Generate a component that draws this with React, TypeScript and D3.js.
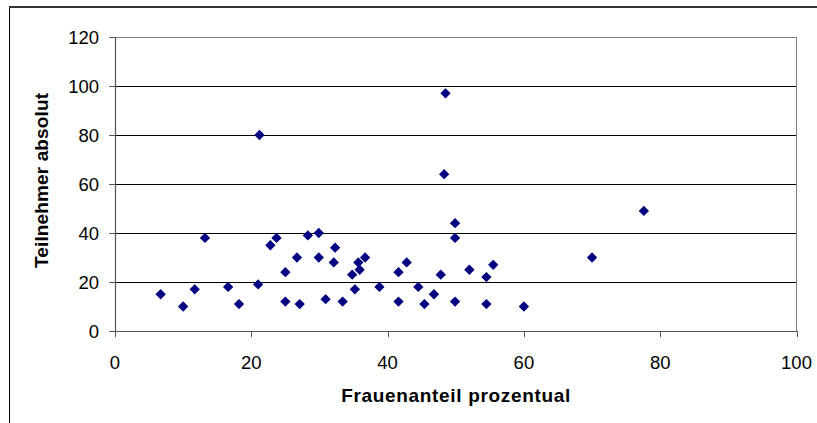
import React from "react";
import * as d3 from "d3";

const frauenanteil: number[] = [
  6.7, 10.0, 11.7, 13.2, 16.6, 18.2, 21.2, 21.0, 22.8, 23.7, 25.0, 25.0, 26.7, 27.1,
  28.3, 29.9, 29.9, 30.9, 32.3, 32.1, 33.4, 34.8, 35.2, 35.7, 35.9, 36.7, 38.8, 41.6,
  41.6, 42.8, 44.5, 45.4, 46.8, 47.8, 48.5, 48.3, 49.9, 49.9, 49.9, 52.0, 54.5, 55.5,
  54.5, 60.0, 70.0, 77.6,
];
const teilnehmer: number[] = [
  15, 10, 17, 38, 18, 11, 80, 19, 35, 38, 24, 12, 30, 11,
  39, 40, 30, 13, 34, 28, 12, 23, 17, 28, 25, 30, 18, 24,
  12, 28, 18, 11, 15, 23, 97, 64, 44, 38, 12, 25, 22, 27,
  11, 10, 30, 49,
];
const xTicks: number[] = [0, 20, 40, 60, 80, 100];
const yTicks: number[] = [0, 20, 40, 60, 80, 100, 120];
const xTitle = "Frauenanteil prozentual";
const yTitle = "Teilnehmer absolut";

export default function App() {
  const W = 817, H = 423;
  const left = 115, right = 796.5, top = 37, bottom = 331;
  const x = d3.scaleLinear().domain([0, 100]).range([left, right]);
  const y = d3.scaleLinear().domain([0, 120]).range([bottom, top]);
  const diamond = d3.symbol().type(d3.symbolDiamond2).size(68)();
  const font = "'Liberation Sans', Arial, sans-serif";
  return (
    <svg width={W} height={H} style={{ position: "absolute", left: 0, top: 0, background: "#fff" }}>
      <rect x={0} y={0} width={W} height={H} fill="#fff" />
      {/* outer frame */}
      <line x1={9.5} y1={7} x2={9.5} y2={H} stroke="#000" strokeWidth={1} />
      <line x1={9} y1={7} x2={W} y2={7} stroke="#333" strokeWidth={2} />
      {/* gridlines */}
      {yTicks.filter((t) => t > 0 && t < 120).map((t) => (
        <line key={"g" + t} x1={left} x2={right} y1={Math.round(y(t)) + 0.5} y2={Math.round(y(t)) + 0.5} stroke="#000" strokeWidth={1} />
      ))}
      {/* plot border top/right */}
      <line x1={left} x2={right} y1={top + 0.5} y2={top + 0.5} stroke="#808080" strokeWidth={1} />
      <line x1={right} x2={right} y1={top} y2={bottom} stroke="#808080" strokeWidth={1} />
      {/* axes */}
      <line x1={left + 0.5} x2={left + 0.5} y1={top} y2={bottom + 1} stroke="#555" strokeWidth={1.2} />
      <line x1={left} x2={right + 0.5} y1={bottom + 0.5} y2={bottom + 0.5} stroke="#555" strokeWidth={1.2} />
      {yTicks.map((t) => (
        <g key={"y" + t}>
          <line x1={left - 6} x2={left} y1={Math.round(y(t)) + 0.5} y2={Math.round(y(t)) + 0.5} stroke="#555" />
          <text x={99} y={y(t)} dy="0.36em" textAnchor="end" fontFamily={font} fontSize={18.5} fill="#000">
            {t}
          </text>
        </g>
      ))}
      {xTicks.map((t) => (
        <g key={"x" + t}>
          <line x1={Math.round(x(t)) + 0.5} x2={Math.round(x(t)) + 0.5} y1={bottom} y2={bottom + 6} stroke="#555" />
          <text x={x(t)} y={368.5} textAnchor="middle" fontFamily={font} fontSize={18.5} fill="#000">
            {t}
          </text>
        </g>
      ))}
      {/* titles */}
      <text x={(left + right) / 2} y={401.5} textAnchor="middle" fontFamily={font} fontSize={19} fontWeight="bold" textLength={229} lengthAdjust="spacing" fill="#000">
        {xTitle}
      </text>
      <text transform={`translate(48,180.5) rotate(-90)`} textAnchor="middle" fontFamily={font} fontSize={19} fontWeight="bold" textLength={175} lengthAdjust="spacing" fill="#000">
        {yTitle}
      </text>
      {/* points */}
      {frauenanteil.map((v, i) => (
        <path key={"p" + i} d={diamond || ""} transform={`translate(${x(v)},${y(teilnehmer[i])})`} fill="#000080" />
      ))}
    </svg>
  );
}
